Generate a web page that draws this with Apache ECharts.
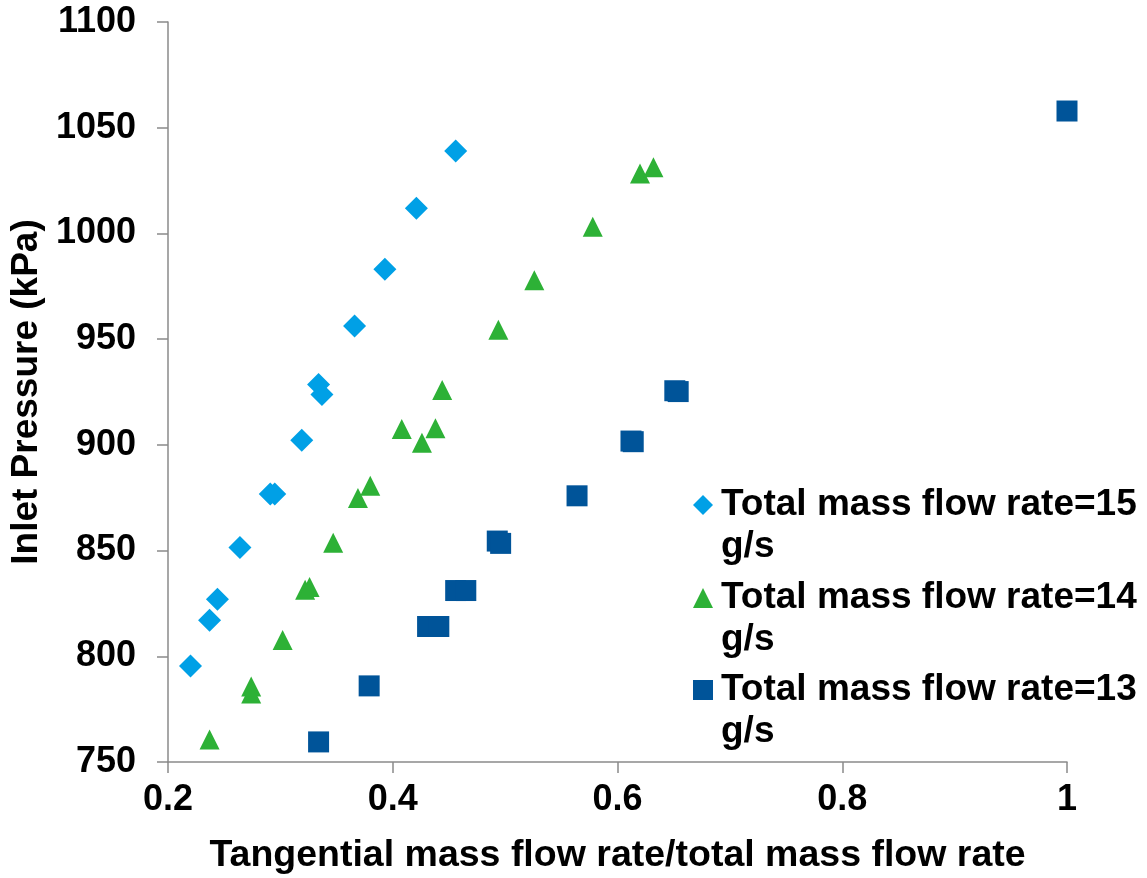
<!DOCTYPE html>
<html>
<head>
<meta charset="utf-8">
<script src="https://cdn.jsdelivr.net/npm/echarts@6/dist/echarts.min.js"></script>
<style>
html,body{margin:0;padding:0;background:#fff;}
#chart{width:1147px;height:878px;}
</style>
</head>
<body>
<div id="chart"></div>
<script>
// Tick labels / axis settings
var xTicks = [0.2, 0.4, 0.6, 0.8, 1];
var yTicks = [750, 800, 850, 900, 950, 1000, 1050, 1100];

// Series names
var names = ['Total mass flow rate=15 g/s', 'Total mass flow rate=14 g/s', 'Total mass flow rate=13 g/s'];

// Total mass flow rate = 15 g/s (diamonds)
var flow15X = [0.220, 0.237, 0.244, 0.264, 0.291, 0.295, 0.319, 0.334, 0.337, 0.366, 0.393, 0.421, 0.456];
var flow15Y = [795.4, 817.0, 827.0, 851.4, 876.7, 876.7, 902.2, 928.6, 923.8, 956.2, 983.1, 1011.9, 1039.0];

// Total mass flow rate = 14 g/s (triangles)
var flow14X = [0.237, 0.274, 0.274, 0.302, 0.322, 0.326, 0.347, 0.369, 0.380, 0.408, 0.426, 0.438, 0.444, 0.494, 0.526, 0.578, 0.620, 0.632];
var flow14Y = [760.6, 782.4, 785.7, 807.7, 831.5, 832.8, 853.7, 874.9, 880.6, 907.5, 901.0, 907.9, 925.9, 954.4, 977.8, 1003.2, 1028.4, 1031.3];

// Total mass flow rate = 13 g/s (squares)
var flow13X = [0.334, 0.379, 0.431, 0.441, 0.456, 0.465, 0.493, 0.496, 0.564, 0.612, 0.614, 0.651, 0.654, 1.000];
var flow13Y = [759.5, 786.0, 814.1, 814.1, 831.1, 831.1, 854.5, 853.4, 875.9, 901.8, 901.5, 925.6, 925.2, 1057.9];

function pairs(xs, ys) {
  var out = [];
  for (var i = 0; i < xs.length; i++) out.push([xs[i], ys[i]]);
  return out;
}

var FONT = '"Liberation Sans", Arial, Helvetica, sans-serif';
var colors = ['#00A0E6', '#2DB136', '#005499'];
var symbols = ['diamond', 'triangle', 'rect'];
var sizes = [23, 20, 21];
var seriesData = [pairs(flow15X, flow15Y), pairs(flow14X, flow14Y), pairs(flow13X, flow13Y)];

var legendTops = [437, 530, 622];
var legends = names.map(function (n, i) {
  return {
    data: [n],
    orient: 'vertical',
    left: 688,
    top: legendTops[i],
    itemWidth: 20,
    itemHeight: 20,
    selectedMode: false,
    // a blank first line keeps the marker level with the first text line
    formatter: function (name) { return ' \n' + name.replace(' g/s', '\ng/s'); },
    textStyle: {
      fontFamily: FONT,
      fontWeight: 'bold',
      fontSize: 37,
      color: '#000',
      lineHeight: 42,
      padding: [0, 0, 0, 3]
    }
  };
});

var chart = echarts.init(document.getElementById('chart'), null, {renderer: 'canvas'});
chart.setOption({
  animation: false,
  backgroundColor: '#fff',
  grid: {left: 168, right: 80, top: 22, bottom: 116, containLabel: false, outerBoundsMode: 'none'},
  legend: legends,
  xAxis: {
    type: 'value',
    min: xTicks[0],
    max: xTicks[xTicks.length - 1],
    interval: 0.2,
    name: 'Tangential mass flow rate/total mass flow rate',
    nameLocation: 'middle',
    nameGap: 75,
    nameTextStyle: {fontFamily: FONT, fontWeight: 'bold', fontSize: 37.5, color: '#000'},
    axisLine: {show: true, lineStyle: {color: '#8a8a8a', width: 1.5}},
    axisTick: {show: true, length: 11, lineStyle: {color: '#8a8a8a', width: 1.5}},
    splitLine: {show: false},
    axisLabel: {
      fontFamily: FONT, fontWeight: 'bold', fontSize: 36, color: '#000', margin: 20,
      formatter: function (v) { return String(Math.round(v * 10) / 10); }
    }
  },
  yAxis: {
    type: 'value',
    min: yTicks[0],
    max: yTicks[yTicks.length - 1],
    interval: 50,
    name: 'Inlet Pressure (kPa)',
    nameLocation: 'middle',
    nameGap: 122,
    nameRotate: 90,
    nameTextStyle: {fontFamily: FONT, fontWeight: 'bold', fontSize: 37, color: '#000'},
    axisLine: {show: true, lineStyle: {color: '#8a8a8a', width: 1.5}},
    axisTick: {show: true, length: 11, lineStyle: {color: '#8a8a8a', width: 1.5}},
    splitLine: {show: false},
    axisLabel: {
      fontFamily: FONT, fontWeight: 'bold', fontSize: 36, color: '#000', margin: 32,
      formatter: function (v) { return String(v); }
    }
  },
  series: names.map(function (n, i) {
    return {
      name: n,
      type: 'scatter',
      symbol: symbols[i],
      symbolSize: sizes[i],
      itemStyle: {color: colors[i], opacity: 1},
      data: seriesData[i],
      z: 2 + i
    };
  })
});
</script>
</body>
</html>
